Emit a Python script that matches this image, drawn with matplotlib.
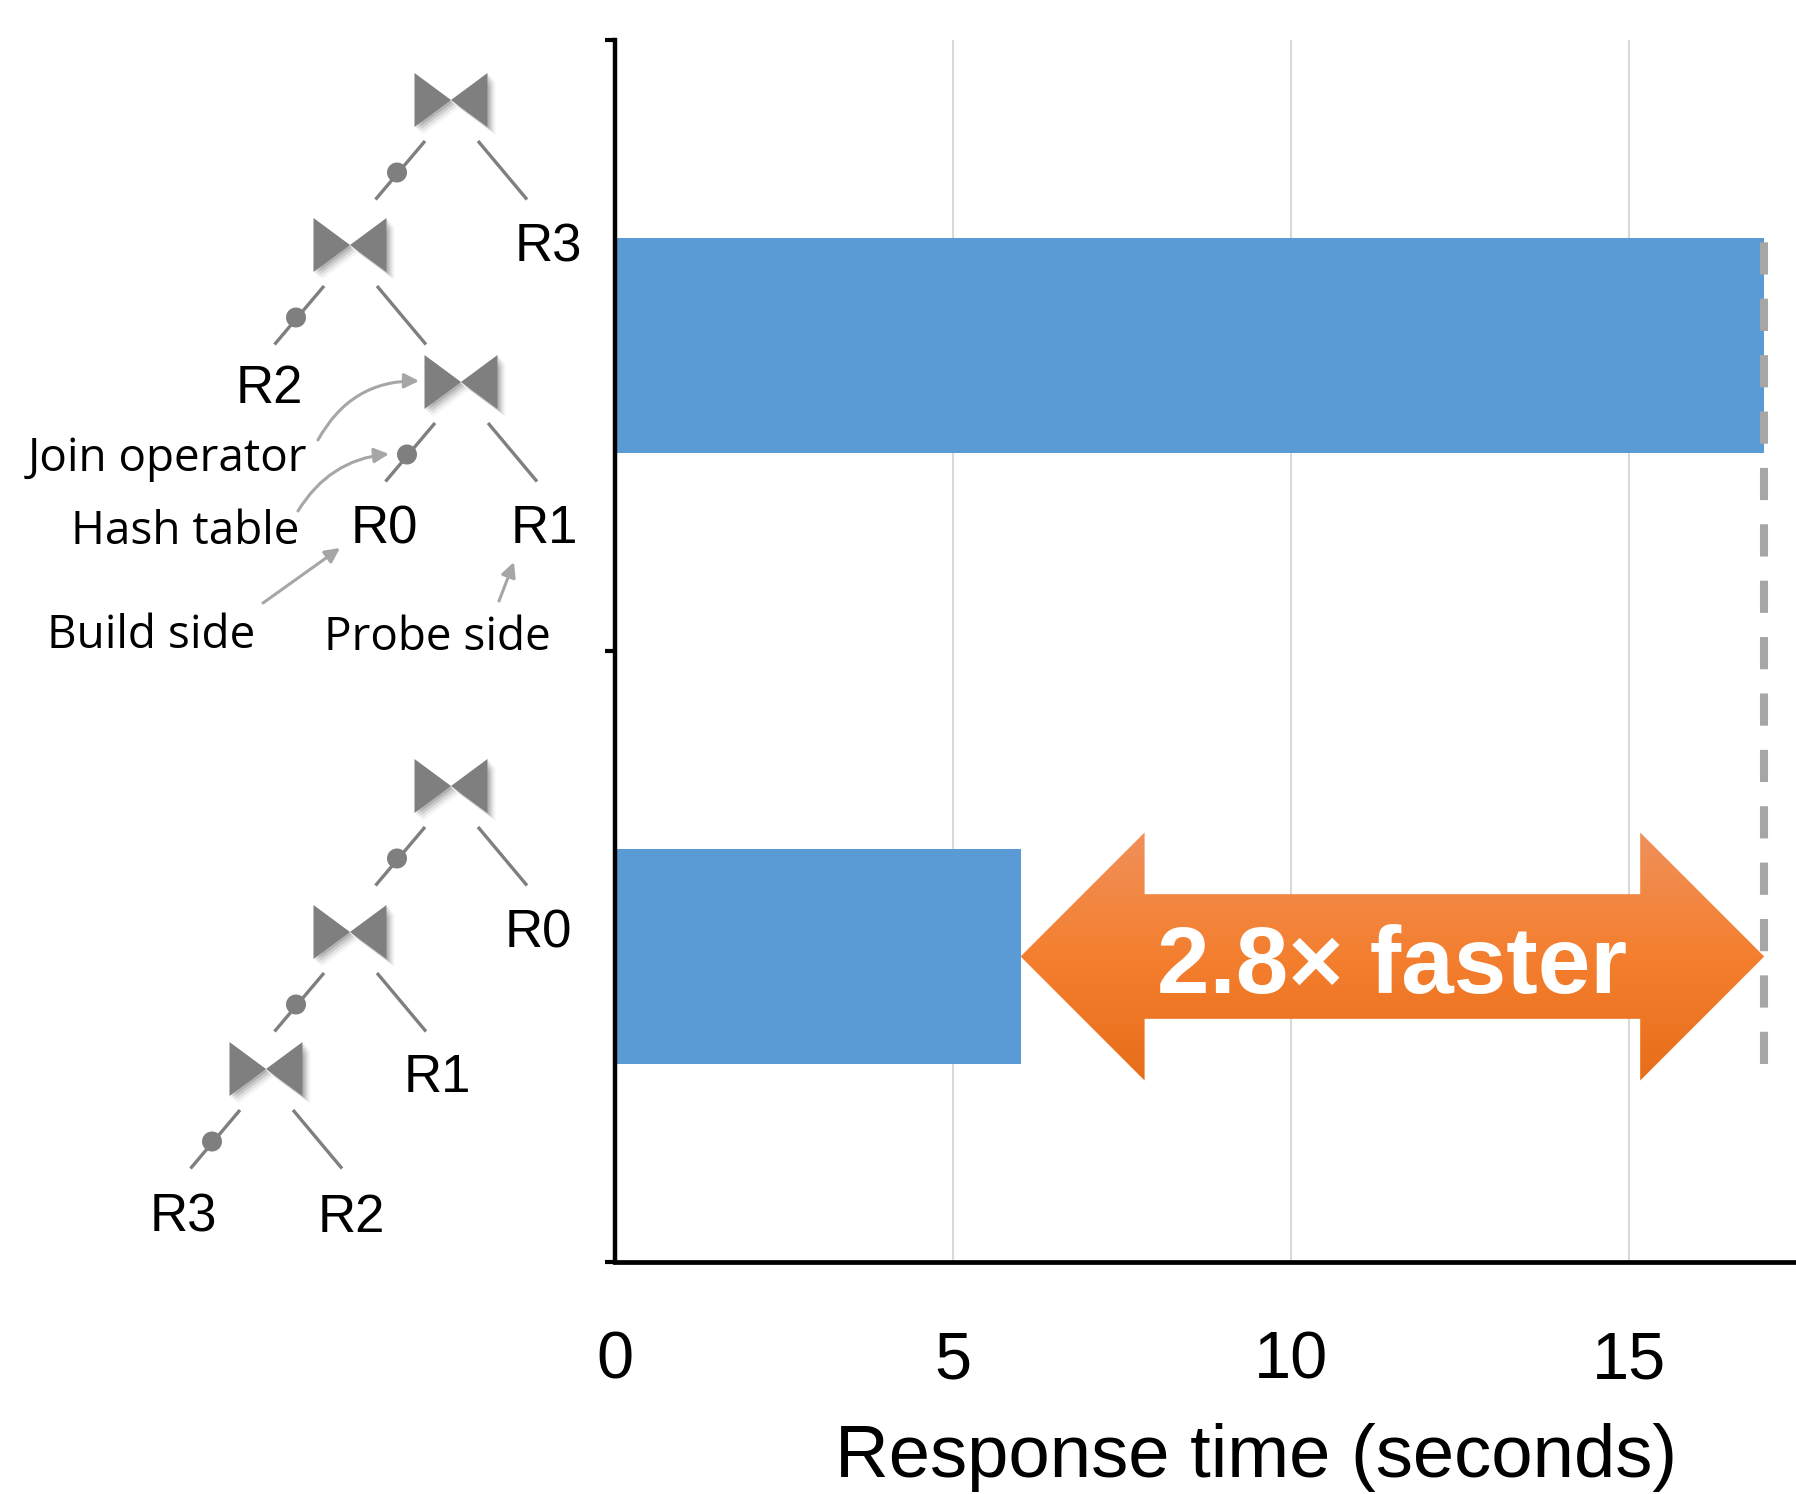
import numpy as np
import matplotlib
matplotlib.use('Agg')
import matplotlib.pyplot as plt
from matplotlib import font_manager
from matplotlib.colors import LinearSegmentedColormap
from matplotlib.patches import Polygon, Circle

# data
plans = ['Plan A (top tree)', 'Plan B (bottom tree)']
times = [17.0, 6.0]          # response time, seconds
xticks = [0, 5, 10, 15]

names = {f.name for f in font_manager.fontManager.ttflist}
narrow = 'Liberation Sans Narrow' if 'Liberation Sans Narrow' in names else 'Liberation Sans'
plt.rcParams['font.family'] = ['Liberation Sans', 'DejaVu Sans']

W, H = 1796, 1494
fig = plt.figure(figsize=(W / 100, H / 100), dpi=100)

# ---- overlay in pixel coords for the join trees ----
ov = fig.add_axes([0, 0, 1, 1])
ov.set_xlim(0, W)
ov.set_ylim(H, 0)
ov.axis('off')

gray = '#7f7f7f'


def join(cx, cy):
    hw, hh = 36.5, 27
    for k, a in [(8, 0.04), (6, 0.07), (4, 0.10), (2, 0.12)]:
        for s in (-1, 1):
            ov.add_patch(Polygon([(cx + s * hw + k, cy - hh + k), (cx + s * hw + k, cy + hh + k), (cx + k, cy + k)],
                                 closed=True, fc='black', ec='none', alpha=a, zorder=1))
    for s in (-1, 1):
        ov.add_patch(Polygon([(cx + s * hw, cy - hh), (cx + s * hw, cy + hh), (cx, cy)],
                             closed=True, fc=gray, ec='none', zorder=2))
    ov.plot([cx - 26, cx - 75.5], [cy + 41, cy + 99.5], color=gray, lw=2.4, solid_capstyle='butt')
    ov.plot([cx + 27, cx + 76], [cy + 41, cy + 99.5], color=gray, lw=2.4, solid_capstyle='butt')
    ov.add_patch(Circle((cx - 54, cy + 72.5), 10, fc=gray, ec='none', zorder=3))


for c in [(451, 100), (350, 245), (461, 382), (451, 786), (350, 932), (266, 1069)]:
    join(*c)

rel_labels = [('R3', 515, 262), ('R2', 236, 403), ('R0', 351, 543), ('R1', 511, 543),
              ('R0', 505, 947), ('R1', 404, 1092), ('R3', 150, 1232), ('R2', 318, 1232)]
for t, x, y in rel_labels:
    ov.text(x, y, t, fontsize=38, ha='left', va='baseline', color='black')

notes = [('Join operator', 28, 471), ('Hash table', 71, 544), ('Build side', 47, 648), ('Probe side', 324, 650)]
for t, x, y in notes:
    ov.text(x, y, t, fontsize=33, family=['Open Sans', 'DejaVu Sans'], ha='left', va='baseline')

arrow_gray = '#a6a6a6'
for start, tip, rad in [((318, 440), (419, 381), -0.3), ((298, 511), (389, 454), -0.25),
                        ((263, 603), (340, 548), 0.0), ((499, 601), (514, 562), 0.0)]:
    ov.annotate('', xy=tip, xytext=start,
                arrowprops=dict(arrowstyle='-|>', color=arrow_gray, lw=2.2, mutation_scale=22,
                                shrinkA=0, shrinkB=0, connectionstyle=f'arc3,rad={rad}'))

# ---- main bar chart ----
ppu = 338 / 5.0
ax = fig.add_axes([615 / W, 1 - 1262 / H, (W - 615) / W, (1262 - 40) / H])
ax.set_facecolor('none')
ypos = [1.5, 0.5]
bh = 0.352
ax.barh(ypos, times, height=bh, color='#5b9bd5', zorder=2)

ax.set_xlim(0, (W - 615) / ppu)
ax.set_ylim(0, 2)
ax.set_xticks(xticks)
ax.set_xticklabels([str(v) for v in xticks], fontsize=48, family=narrow)
ax.xaxis.grid(True, color='#d9d9d9', lw=1.5)
ax.set_axisbelow(True)
ax.tick_params(axis='x', length=0, pad=49)
ax.set_yticks([0, 1, 2])
ax.set_yticklabels([])
ax.tick_params(axis='y', direction='out', length=7, width=3)
for side in ['top', 'right']:
    ax.spines[side].set_visible(False)
ax.spines['left'].set_linewidth(3.2)
ax.spines['bottom'].set_linewidth(3.4)

ax.set_xlabel('Response time (seconds)', fontsize=53.5)
ax.xaxis.set_label_coords((1256 - 615) / (W - 615), -(1477 - 1262) / 1222)
ax.xaxis.label.set_va('baseline')

# dashed reference at the slower plan's time
ax.vlines(times[0], ypos[1] - bh / 2, ypos[0] + bh / 2, color='#a6a6a6', lw=5.8,
          linestyles=(0, (4, 3)), zorder=4)

# double arrow from faster bar end to slower one
x0, x1, yc = times[1], times[0], ypos[1]
hl, hh, sh = 124 / ppu, 0.203, 0.102
pts = [(x0, yc), (x0 + hl, yc + hh), (x0 + hl, yc + sh), (x1 - hl, yc + sh), (x1 - hl, yc + hh),
       (x1, yc), (x1 - hl, yc - hh), (x1 - hl, yc - sh), (x0 + hl, yc - sh), (x0 + hl, yc - hh)]
poly = Polygon(pts, closed=True, fc='none', ec='none')
ax.add_patch(poly)
cmap = LinearSegmentedColormap.from_list('org', ['#e76d19', '#f47f2f', '#f0905a'])
grad = np.linspace(0, 1, 256).reshape(-1, 1)
im = ax.imshow(grad, cmap=cmap, extent=[x0, x1, yc - hh, yc + hh], origin='lower',
               aspect='auto', zorder=3)
im.set_clip_path(poly)
ax.set_xlim(0, (W - 615) / ppu)
ax.set_ylim(0, 2)

ax.text((x0 + x1) / 2, yc - 0.059, f'{times[0] / times[1]:.1f}× faster', color='white',
        fontsize=68, fontweight='bold', family=[narrow, 'DejaVu Sans'], ha='center', va='baseline', zorder=5)

fig.savefig('out.png', dpi=100)
